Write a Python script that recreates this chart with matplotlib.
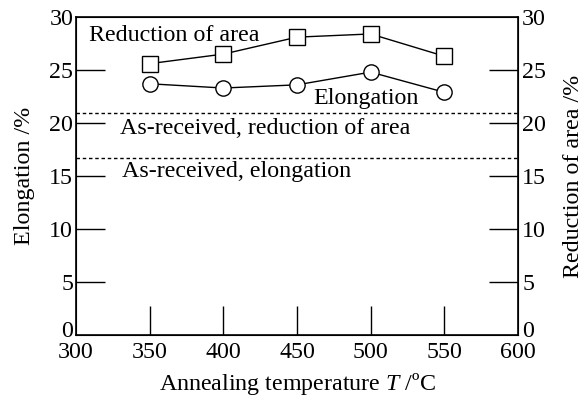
import matplotlib
matplotlib.use("Agg")
import matplotlib.pyplot as plt
from matplotlib.transforms import ScaledTranslation

plt.rcParams['font.family'] = ['Liberation Serif', 'DejaVu Serif']
plt.rcParams['mathtext.fontset'] = 'custom'
plt.rcParams['mathtext.it'] = 'Liberation Serif:italic'
plt.rcParams['mathtext.rm'] = 'Liberation Serif'

# annealing temperatures and measured values
temps = [350, 400, 450, 500, 550]
reduction_area = [25.6, 26.5, 28.1, 28.4, 26.3]
elongation = [23.7, 23.3, 23.6, 24.8, 22.9]

# as-received reference levels
asrec_reduction = 20.9
asrec_elongation = 16.7

xticks = [300, 350, 400, 450, 500, 550, 600]
yticks = [0, 5, 10, 15, 20, 25, 30]

fs = 17.3

fig = plt.figure(figsize=(5.86, 3.96), dpi=100)
ax = fig.add_axes([76/586, 1 - 335/396, (518-76)/586, (335-17)/396])

ax.plot(temps, reduction_area, color='black', lw=1.0, marker='s', ms=11,
        mfc='white', mec='black', mew=1.0)
ax.plot(temps, elongation, color='black', lw=1.0, marker='o', ms=11,
        mfc='white', mec='black', mew=1.0)
ax.axhline(asrec_reduction, color='black', lw=1.0, ls=(0, (2.5, 2)))
ax.axhline(asrec_elongation, color='black', lw=1.0, ls=(0, (2.5, 2)))

ax.set_xlim(300, 600)
ax.set_ylim(0, 30)
for s in ax.spines.values():
    s.set_linewidth(1.2)

ax2 = ax.twinx()
ax2.set_ylim(0, 30)

# labels on major ticks (no marks), marks on minor ticks away from the corners
for a in (ax.xaxis, ax.yaxis, ax2.yaxis):
    a.remove_overlapping_locs = False
ax.set_xticks(xticks)
ax.set_xticks(xticks[1:-1], minor=True)
ax.set_yticks(yticks)
ax.set_yticks(yticks[1:-1], minor=True)
ax2.set_yticks(yticks)
ax2.set_yticks(yticks[1:-1], minor=True)
ax.tick_params(axis='both', which='major', length=0, labelsize=fs, pad=2)
ax.tick_params(axis='x', which='major', pad=5)
ax.tick_params(axis='both', which='minor', direction='in', length=21,
               width=1.0)
ax2.tick_params(axis='y', which='major', length=0, labelsize=fs, pad=3)
ax2.tick_params(axis='y', which='minor', direction='in', length=21,
                width=1.0)

ax.set_xlabel(r'Annealing temperature $T$ /ºC', fontsize=fs, labelpad=6)
ax.set_ylabel('Elongation /%', fontsize=fs, labelpad=10)
ax2.set_ylabel('Reduction of area /%', fontsize=fs, labelpad=12)

ax.text(309, 28.3, 'Reduction of area', fontsize=fs, va='center')
ax.text(461, 22.3, 'Elongation', fontsize=fs, va='center')
ax.text(330, 19.5, 'As-received, reduction of area', fontsize=fs, va='center')
ax.text(331, 15.4, 'As-received, elongation', fontsize=fs, va='center')

# lift the two "0" labels a little off the x tick labels
fig.canvas.draw()
lift = ScaledTranslation(0, 4/72, fig.dpi_scale_trans)
ax.yaxis.get_major_ticks()[0].label1.set_transform(
    ax.yaxis.get_major_ticks()[0].label1.get_transform() + lift)
ax2.yaxis.get_major_ticks()[0].label2.set_transform(
    ax2.yaxis.get_major_ticks()[0].label2.get_transform() + lift)

fig.savefig('out.png', dpi=100)
